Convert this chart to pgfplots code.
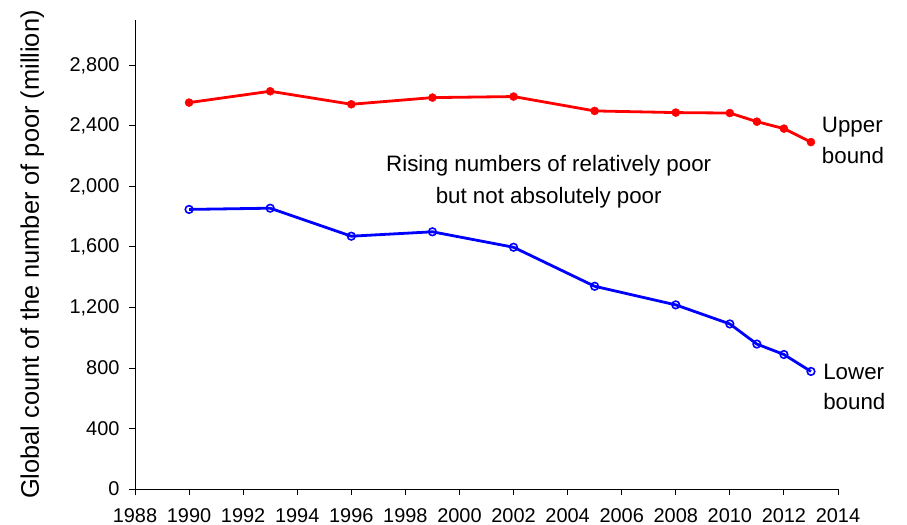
\documentclass[border=0pt]{standalone}
\usepackage{fontspec}
\setmainfont{Liberation Sans}
\usepackage{pgfplots}
\pgfplotsset{compat=1.18}

\definecolor{upred}{RGB}{255,0,0}
\definecolor{lowblue}{RGB}{0,0,255}

\begin{document}
\begin{tikzpicture}[x=1bp,y=1bp]
\begin{axis}[
    name=ax,
    scale only axis,
    width=703bp, height=469bp,
    xmin=1988, xmax=2014,
    ymin=0, ymax=3100,
    xtick={1988,1990,...,2014},
    ytick={0,400,...,2800},
    axis lines*=left,
    axis line style={black, line width=0.9bp},
    tick style={black, line width=0.9bp},
    tick align=outside,
    major tick length=6bp,
    /pgf/number format/assume math mode=true,
    xticklabel style={/pgf/number format/1000 sep={}, yshift=-10bp},
    yticklabel style={/pgf/number format/1000 sep={,}, xshift=-6bp},
    ticklabel style={font=\fontsize{20}{22}\selectfont},
    ylabel={Global count of the number of poor (million)},
    every axis y label/.style={at={(axis description cs:-0.146,0.5)},
        rotate=90, anchor=center, font=\fontsize{25.5}{28}\selectfont},
    clip=false,
]
% Upper bound
\addplot[upred, line width=2.8bp, mark=*, mark size=4bp,
    mark options={fill=upred, draw=upred, line width=0.5bp}] coordinates {
    (1990,2554) (1993,2629) (1996,2543) (1999,2587) (2002,2594)
    (2005,2499) (2008,2488) (2010,2485) (2011,2428) (2012,2382) (2013,2293)
};
% Lower bound
\addplot[lowblue, line width=2.8bp, mark=o, mark size=3.8bp,
    mark options={fill=white, draw=lowblue, line width=1.6bp}] coordinates {
    (1990,1848) (1993,1856) (1996,1671) (1999,1700) (2002,1598)
    (2005,1340) (2008,1217) (2010,1091) (2011,958) (2012,889) (2013,777)
};

\node[align=center, font=\fontsize{22.4}{32}\selectfont]
    at (axis cs:2003.3,2030) {Rising numbers of relatively poor\\but not absolutely poor};
\node[align=left, anchor=west, font=\fontsize{22.4}{31}\selectfont, inner sep=0pt]
    at (axis cs:2013.4,2305) {Upper\\bound};
\node[align=left, anchor=west, font=\fontsize{22.4}{31}\selectfont, inner sep=0pt]
    at (axis cs:2013.45,675) {Lower\\bound};
\end{axis}
\pgfresetboundingbox
\path[use as bounding box] ([shift={(-135bp,-36bp)}]ax.south west)
    rectangle ([shift={(772bp,489bp)}]ax.south west);
\end{tikzpicture}
\end{document}
